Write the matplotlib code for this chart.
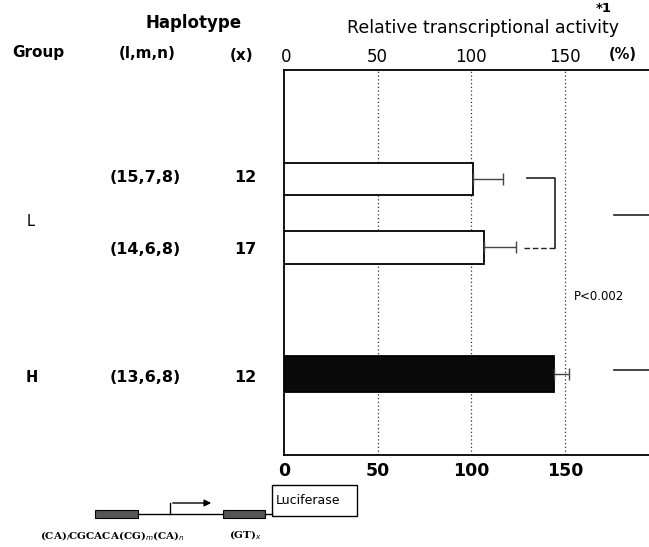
import matplotlib
matplotlib.use("agg")
import matplotlib.pyplot as plt
from matplotlib.patches import Rectangle, FancyArrowPatch

# data
groups = ["L", "H"]
haplotypes = ["(15,7,8)", "(14,6,8)", "(13,6,8)"]
x_repeats = ["12", "17", "12"]
activity = [101, 107, 144]
activity_err = [16, 17, 8]
bar_colors = ["white", "white", "#0a0a0a"]
ticks = [0, 50, 100, 150]

W, H = 649, 547
fig = plt.figure(figsize=(W / 100, H / 100), dpi=100)

# overlay axes in pixel coordinates for the text / diagram
bg = fig.add_axes([0, 0, 1, 1])
bg.set_xlim(0, W)
bg.set_ylim(H, 0)
bg.axis("off")

# main bar axes, y measured in pixels (top=70, bottom=455)
ax = fig.add_axes([284 / W, 1 - 455 / H, (W - 284) / W, (455 - 70) / H])
ax.set_xlim(0, 195)
ax.set_ylim(455, 70)
ycent = [179, 247, 374]
hts = [32, 33, 36]
for yc, h, v, e, c in zip(ycent, hts, activity, activity_err, bar_colors):
    ax.barh(yc, v, height=h, color=c, edgecolor="black", linewidth=1.3, zorder=3)
    ax.errorbar(v, yc, xerr=[[0], [e]], fmt="none", ecolor="#444444",
                elinewidth=1.0, capsize=4, capthick=1.0, zorder=4)

for t in ticks[1:]:
    ax.axvline(t, color="#333333", ls=(0, (1, 2)), lw=0.9, zorder=1)

# significance bracket
ax.plot([130, 145, 145], [178, 178, 248], color="#222222", lw=1.2)
ax.plot([128, 145], [248, 248], color="#222222", lw=1.0, ls=(0, (4, 2)))
ax.plot([176.5, 195], [215, 215], color="#222222", lw=1.2)
ax.plot([176.5, 195], [370, 370], color="#222222", lw=1.2)
ax.text(155, 297, "P<0.002", fontsize=8.5, va="center", ha="left")

ax.set_xticks(ticks)
ax.set_xticklabels([str(t) for t in ticks], fontsize=12.5, fontweight="bold")
ax.set_yticks([])
ax.tick_params(axis="x", length=0, pad=5)
ax.spines["right"].set_visible(False)
for s in ["left", "top", "bottom"]:
    ax.spines[s].set_linewidth(1.3)

# top scale labels
tr = ax.get_xaxis_transform()
for t in ticks:
    ax.text(t + (1 if t == 0 else 0), 1.035, str(t), transform=tr, fontsize=12,
            ha="center", va="center")
ax.text(181, 1.04, "(%)", transform=tr, fontsize=10.5, fontweight="bold",
        ha="center", va="center")

# headers
bg.text(194, 23, "Haplotype", fontsize=12, fontweight="bold", ha="center", va="center")
bg.text(483, 28, "Relative transcriptional activity", fontsize=12.5,
        ha="center", va="center")
bg.text(604, 8, "*1", fontsize=9.5, fontweight="bold", ha="center", va="center")
bg.text(38, 53, "Group", fontsize=11, fontweight="bold", ha="center", va="center")
bg.text(147, 53, "(l,m,n)", fontsize=11, fontweight="bold", ha="center", va="center")
bg.text(242, 56, "(x)", fontsize=11, fontweight="bold", ha="center", va="center")

# row labels
for yc, hp, xr in zip([178, 249, 378], haplotypes, x_repeats):
    bg.text(145, yc, hp, fontsize=11.5, fontweight="bold", ha="center", va="center")
    bg.text(245, yc, xr, fontsize=11.5, fontweight="bold", ha="center", va="center")
bg.text(31, 221, groups[0], fontsize=10.5, ha="center", va="center")
bg.text(32, 378, groups[1], fontsize=10.5, fontweight="bold", ha="center", va="center")

# construct diagram
bg.plot([138, 223], [514, 514], color="black", lw=1.0)
bg.plot([265, 272], [514, 514], color="black", lw=1.0)
bg.add_patch(Rectangle((95, 510), 43, 8, facecolor="#555555", edgecolor="black", lw=0.8))
bg.add_patch(Rectangle((223, 510), 42, 8, facecolor="#555555", edgecolor="black", lw=0.8))
bg.add_patch(Rectangle((272, 485), 85, 31, facecolor="white", edgecolor="black", lw=1.0))
bg.text(276, 500, "Luciferase", fontsize=9, ha="left", va="center", clip_on=True)
bg.plot([170, 170], [514, 503], color="black", lw=1.0)
bg.add_patch(FancyArrowPatch((170, 503), (214, 503), arrowstyle="-|>",
                             mutation_scale=10, color="black", lw=1.0))
bg.text(40, 536, r"(CA)$_l$CGCACA(CG)$_m$(CA)$_n$", fontsize=7.5, family="serif",
        fontweight="bold", ha="left", va="center")
bg.text(229, 535, r"(GT)$_x$", fontsize=7.5, family="serif", fontweight="bold",
        ha="left", va="center")

fig.savefig("out.png", dpi=100)
